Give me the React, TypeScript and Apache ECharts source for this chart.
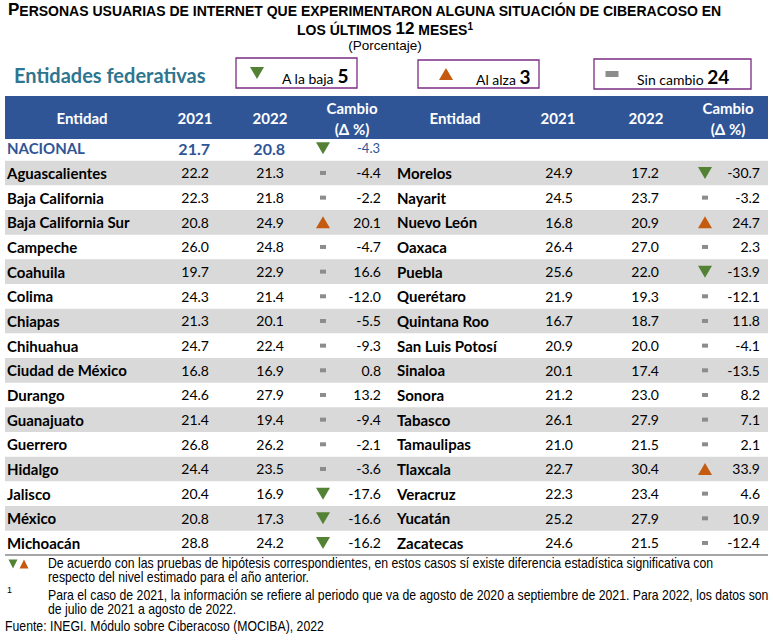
import React, { useEffect, useRef } from "react";
import * as echarts from "echarts";

// ---------- DATA ----------
const nationalLabel = "NACIONAL";
const national2021 = 21.7;
const national2022 = 20.8;
const nationalChange = -4.3;
const nationalStatus = "d";

const leftNames = [
  "Aguascalientes", "Baja California", "Baja California Sur", "Campeche", "Coahuila", "Colima",
  "Chiapas", "Chihuahua", "Ciudad de México", "Durango", "Guanajuato", "Guerrero", "Hidalgo",
  "Jalisco", "México", "Michoacán",
];
const left2021 = [22.2, 22.3, 20.8, 26.0, 19.7, 24.3, 21.3, 24.7, 16.8, 24.6, 21.4, 26.8, 24.4, 20.4, 20.8, 28.8];
const left2022 = [21.3, 21.8, 24.9, 24.8, 22.9, 21.4, 20.1, 22.4, 16.9, 27.9, 19.4, 26.2, 23.5, 16.9, 17.3, 24.2];
const leftChange = [-4.4, -2.2, 20.1, -4.7, 16.6, -12.0, -5.5, -9.3, 0.8, 13.2, -9.4, -2.1, -3.6, -17.6, -16.6, -16.2];
const leftStatus = ["s", "s", "u", "s", "s", "s", "s", "s", "s", "s", "s", "s", "s", "d", "d", "d"];

const rightNames = [
  "Morelos", "Nayarit", "Nuevo León", "Oaxaca", "Puebla", "Querétaro", "Quintana Roo",
  "San Luis Potosí", "Sinaloa", "Sonora", "Tabasco", "Tamaulipas", "Tlaxcala", "Veracruz",
  "Yucatán", "Zacatecas",
];
const right2021 = [24.9, 24.5, 16.8, 26.4, 25.6, 21.9, 16.7, 20.9, 20.1, 21.2, 26.1, 21.0, 22.7, 22.3, 25.2, 24.6];
const right2022 = [17.2, 23.7, 20.9, 27.0, 22.0, 19.3, 18.7, 20.0, 17.4, 23.0, 27.9, 21.5, 30.4, 23.4, 27.9, 21.5];
const rightChange = [-30.7, -3.2, 24.7, 2.3, -13.9, -12.1, 11.8, -4.1, -13.5, 8.2, 7.1, 2.1, 33.9, 4.6, 10.9, -12.4];
const rightStatus = ["d", "s", "u", "s", "d", "s", "s", "s", "s", "s", "s", "s", "u", "s", "s", "s"];

const headerLabels = ["Entidad", "2021", "2022", "Cambio", "(Δ %)"];
const legendLabels = ["A la baja", "Al alza", "Sin cambio"];
const sectionLabel = "Entidades federativas";
const titleLine1 = "ERSONAS USUARIAS DE INTERNET QUE EXPERIMENTARON ALGUNA SITUACIÓN DE CIBERACOSO EN";
const subtitle = "(Porcentaje)";
const note1a = "De acuerdo con las pruebas de hipótesis correspondientes, en estos casos sí existe diferencia estadística significativa con";
const note1b = "respecto del nivel estimado para el año anterior.";
const note2a = "Para el caso de 2021, la información se refiere al periodo que va de agosto de 2020 a septiembre de 2021. Para 2022, los datos son";
const note2b = "de julio de 2021 a agosto de 2022.";
const source = "Fuente: INEGI. Módulo sobre Ciberacoso (MOCIBA), 2022";

// ---------- STYLE ----------
const FONT = "Lato, 'Noto Sans', sans-serif";
const ARIAL = "'Liberation Sans', Arial, sans-serif";
const BLUE = "#2F5597";
const GREEN = "#548235";
const ORANGE = "#C55A11";
const GRAY = "#8C8C8C";
const BAND = "#D9D9D9";
const PURPLE = "#7B2C83";
const NOTE_SCALE = 0.876;

function marker(type: string, cx: number, cy: number, w: number, h: number, dashW = 6, dashH = 4): any {
  if (type === "d") {
    return { type: "polygon", shape: { points: [[cx - w / 2, cy - h / 2], [cx + w / 2, cy - h / 2], [cx, cy + h / 2]] }, style: { fill: GREEN } };
  }
  if (type === "u") {
    return { type: "polygon", shape: { points: [[cx - w / 2, cy + h / 2], [cx + w / 2, cy + h / 2], [cx, cy - h / 2]] }, style: { fill: ORANGE } };
  }
  return { type: "rect", shape: { x: cx - dashW / 2, y: cy - dashH / 2, width: dashW, height: dashH }, style: { fill: GRAY } };
}

function txt(text: string, x: number, y: number, o: any = {}): any {
  const el: any = {
    type: "text",
    x,
    y,
    style: {
      text,
      fill: o.fill || "#000",
      fontFamily: o.fontFamily || FONT,
      fontSize: o.fontSize || 14,
      fontWeight: o.fontWeight || "normal",
      align: o.align || "left",
      verticalAlign: o.verticalAlign || "middle",
      rich: o.rich,
    },
  };
  if (o.scaleX) el.scaleX = o.scaleX;
  return el;
}

const leftCols = { name: 7, v1: 209, v2: 284, mk: 323, ch: 381 };
const rightCols = { name: 397, v1: 573, v2: 659, mk: 705, ch: 760 };

export default function App() {
  const ref = useRef<HTMLDivElement>(null);
  useEffect(() => {
    if (!ref.current) return;
    const chart = echarts.init(ref.current, undefined, { renderer: "svg" });

    const yCats = [nationalLabel, ...leftNames];
    const allStatus = [...leftStatus, ...rightStatus];
    const nDown = allStatus.filter((s) => s === "d").length;
    const nUp = allStatus.filter((s) => s === "u").length;
    const nSame = allStatus.filter((s) => s === "s").length;

    const renderItem = (params: any, api: any) => {
      const idx = api.value(1) as number;
      const yc = api.coord([0, idx])[1];
      const bh = api.size([0, 1])[1];
      const X = (v: number) => api.coord([v, idx])[0];
      const children: any[] = [];
      if (idx === 0) {
        children.push(txt(nationalLabel, X(7), yc, { fontWeight: "bold", fontSize: 15, fill: BLUE }));
        children.push(txt(national2021.toFixed(1), X(210), yc, { fontWeight: "bold", fontSize: 16, fill: BLUE, align: "right" }));
        children.push(txt(national2022.toFixed(1), X(285), yc, { fontWeight: "bold", fontSize: 16, fill: BLUE, align: "right" }));
        children.push(marker(nationalStatus, X(323), yc, 14, 12));
        children.push(txt(nationalChange.toFixed(1), X(380), yc, { fontSize: 13, fill: BLUE, align: "right" }));
        return { type: "group", children };
      }
      const i = idx - 1;
      if (i % 2 === 0) {
        children.push({ type: "rect", shape: { x: X(5), y: yc - bh / 2, width: X(768) - X(5), height: bh }, style: { fill: BAND } });
      }
      const sides = [
        [leftNames[i], left2021[i], left2022[i], leftChange[i], leftStatus[i], leftCols],
        [rightNames[i], right2021[i], right2022[i], rightChange[i], rightStatus[i], rightCols],
      ] as any[];
      for (const [nm, a, b, c, st, cols] of sides) {
        children.push(txt(nm, X(cols.name), yc, { fontWeight: "bold", fontSize: 15 }));
        children.push(txt(a.toFixed(1), X(cols.v1), yc, { fontSize: 14, align: "right" }));
        children.push(txt(b.toFixed(1), X(cols.v2), yc, { fontSize: 14, align: "right" }));
        children.push(marker(st, X(cols.mk), yc, 14, 12));
        children.push(txt(c.toFixed(1), X(cols.ch), yc, { fontSize: 14, align: "right" }));
      }
      return { type: "group", children };
    };

    const graphics: any[] = [];
    // Title
    graphics.push(txt("{b|P}{s|" + titleLine1 + "}", 8, 10, {
      fontFamily: ARIAL,
      fontWeight: "bold",
      rich: {
        b: { fontSize: 17, fontWeight: "bold", fontFamily: ARIAL, lineHeight: 16, verticalAlign: "bottom" },
        s: { fontSize: 14, fontWeight: "bold", fontFamily: ARIAL, lineHeight: 16, verticalAlign: "bottom" },
      },
    }));
    graphics.push(txt("{s|LOS ÚLTIMOS }{b|12}{s| MESES}{sup|1}", 385, 29, {
      fontFamily: ARIAL,
      fontWeight: "bold",
      align: "center",
      rich: {
        b: { fontSize: 17, fontWeight: "bold", fontFamily: ARIAL, lineHeight: 16, verticalAlign: "bottom" },
        s: { fontSize: 14, fontWeight: "bold", fontFamily: ARIAL, lineHeight: 16, verticalAlign: "bottom" },
        sup: { fontSize: 10, fontWeight: "bold", fontFamily: ARIAL, lineHeight: 16, verticalAlign: "top" },
      },
    }));
    graphics.push(txt(subtitle, 385, 45, { fontFamily: ARIAL, fontSize: 13.5, align: "center" }));

    // Section label
    graphics.push(txt(sectionLabel, 14, 75, { fontWeight: "bold", fontSize: 20, fill: "#2E7590" }));

    // Legend boxes
    const boxes = [
      { x: 236, y: 58, w: 121, h: 30, type: "d", mx: 257, tx: 282, label: legendLabels[0], n: nDown },
      { x: 418, y: 60, w: 121, h: 28, type: "u", mx: 446, tx: 476, label: legendLabels[1], n: nUp },
      { x: 594, y: 59, w: 157, h: 30, type: "s", mx: 612, tx: 637, label: legendLabels[2], n: nSame },
    ];
    for (const b of boxes) {
      graphics.push({ type: "rect", shape: { x: b.x, y: b.y, width: b.w, height: b.h }, style: { fill: "none", stroke: PURPLE, lineWidth: 1.3 } });
      graphics.push(marker(b.type, b.mx, b.y + b.h / 2, 14, 12, 13, 6));
      graphics.push(txt("{a|" + b.label + " }{n|" + b.n + "}", b.tx, b.y + b.h / 2 + 1, {
        rich: {
          a: { fontSize: 14, fontFamily: FONT, lineHeight: 22, verticalAlign: "bottom" },
          n: { fontSize: 19, fontWeight: "bold", fontFamily: FONT, lineHeight: 22, verticalAlign: "bottom" },
        },
      }));
    }

    // Header band
    graphics.push({ type: "rect", shape: { x: 5, y: 96, width: 763, height: 43 }, style: { fill: BLUE } });
    const hdr = [[82, 195, 270, 352], [455, 558, 646, 728]];
    for (const h of hdr) {
      const o = { fill: "#fff", fontWeight: "bold", fontSize: 15, align: "center" };
      graphics.push(txt(headerLabels[0], h[0], 118, o));
      graphics.push(txt(headerLabels[1], h[1], 118, o));
      graphics.push(txt(headerLabels[2], h[2], 118, o));
      graphics.push(txt(headerLabels[3], h[3], 108, o));
      graphics.push(txt(headerLabels[4], h[3], 129, o));
    }

    // Separator
    graphics.push({ type: "line", shape: { x1: 5, y1: 555, x2: 768, y2: 555 }, style: { stroke: "#A6A6A6", lineWidth: 2 } });

    // Footnotes
    const no = { fontFamily: ARIAL, fontSize: 14, scaleX: NOTE_SCALE };
    graphics.push(marker("d", 13, 564, 9, 9));
    graphics.push(marker("u", 24, 564, 9, 9));
    graphics.push(txt(note1a, 48, 563, no));
    graphics.push(txt(note1b, 48, 577, no));
    graphics.push(txt("1", 7, 590, { fontFamily: ARIAL, fontSize: 9 }));
    graphics.push(txt(note2a, 48, 595, no));
    graphics.push(txt(note2b, 48, 609, no));
    graphics.push(txt(source, 5, 626, no));

    const rowH = 24.667;
    chart.setOption({
      animation: false,
      backgroundColor: "#fff",
      grid: { left: 0, right: 0, top: 148.3 - rowH / 2, height: rowH * yCats.length },
      xAxis: { type: "value", min: 0, max: 773, show: false },
      yAxis: { type: "category", data: yCats, inverse: true, show: false },
      graphic: graphics.map((g) => ({ ...g, z: 100 })),
      series: [
        {
          type: "custom",
          renderItem,
          clip: false,
          encode: { x: 0, y: 1 },
          data: yCats.map((_, i) => [0, i]),
          z: 2,
        },
      ],
    });
    return () => chart.dispose();
  }, []);
  return <div ref={ref} style={{ position: "fixed", left: 0, top: 0, width: 773, height: 644, background: "#fff" }} />;
}
